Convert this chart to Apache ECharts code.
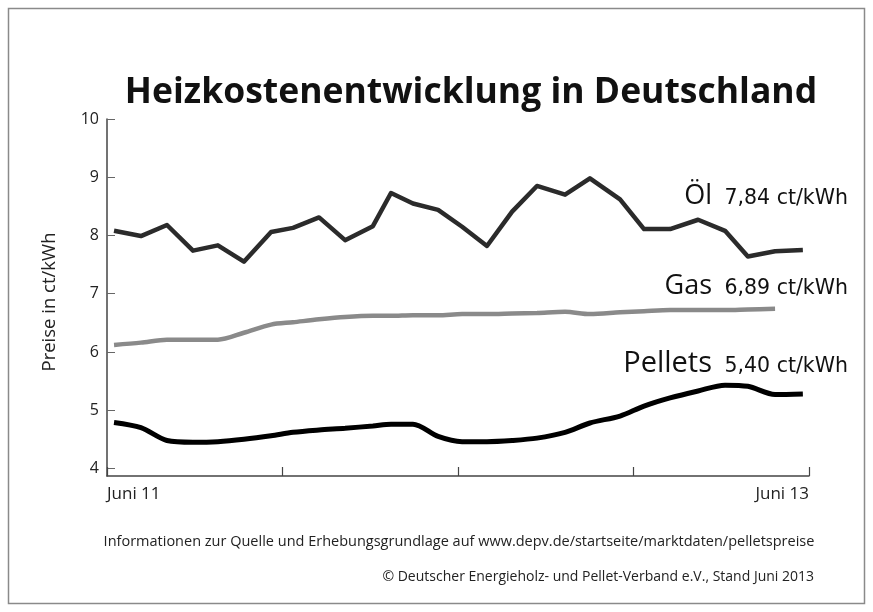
<!DOCTYPE html>
<html>
<head>
<meta charset="utf-8">
<script src="https://cdn.jsdelivr.net/npm/echarts@6/dist/echarts.min.js"></script>
<style>
  html, body { margin: 0; padding: 0; background: #fff; }
  #main { width: 873px; height: 612px; }
</style>
</head>
<body>
<div id="main"></div>
<script>
// Monate seit Juni 11
var monate = [0.24, 1.16, 2.05, 2.94, 3.79, 4.68, 5.61, 6.36, 7.25, 8.14, 9.09, 9.71, 10.46, 11.32,
  12.14, 12.99, 13.85, 14.70, 15.66, 16.51, 17.54, 18.36, 19.25, 20.21, 21.13, 21.91, 22.84, 23.79];
var oel = [8.08, 7.99, 8.18, 7.74, 7.83, 7.55, 8.06, 8.13, 8.31, 7.92, 8.16, 8.73, 8.55, 8.44,
  8.15, 7.82, 8.41, 8.85, 8.70, 8.98, 8.62, 8.11, 8.11, 8.27, 8.08, 7.64, 7.73, 7.75];
var gas = [6.12, 6.16, 6.21, 6.21, 6.21, 6.33, 6.47, 6.51, 6.56, 6.60, 6.62, 6.62, 6.63, 6.63,
  6.65, 6.65, 6.66, 6.67, 6.69, 6.65, 6.68, 6.70, 6.72, 6.72, 6.72, 6.73, 6.74];
var pellets = [4.79, 4.70, 4.48, 4.45, 4.46, 4.50, 4.56, 4.62, 4.66, 4.69, 4.73, 4.76, 4.76, 4.55,
  4.46, 4.46, 4.48, 4.52, 4.62, 4.78, 4.90, 5.07, 5.21, 5.33, 5.43, 5.41, 5.27, 5.28];
var yTicks = [4, 5, 6, 7, 8, 9, 10];
var xLabels = { 0: 'Juni 11', 24: 'Juni 13' };
var endwerte = [
  { name: 'Öl', text: '7,84 ct/kWh', y: 204, size: 27 },
  { name: 'Gas', text: '6,89 ct/kWh', y: 294, size: 27 },
  { name: 'Pellets', text: '5,40 ct/kWh', y: 372, size: 29 }
];

(function () {
  var myChart = echarts.init(document.getElementById('main'));
  var font = '"Open Sans", "Noto Sans", sans-serif';

  function paare(werte) {
    return werte.map(function (v, i) { return [monate[i], v]; });
  }

  var graphics = [
    {
      type: 'rect',
      shape: { x: 8.5, y: 8.5, width: 856, height: 595 },
      style: { fill: 'none', stroke: '#8a8a8a', lineWidth: 1.5 }
    },
    {
      type: 'text', x: 471, y: 111,
      style: {
        text: 'Heizkostenentwicklung in Deutschland',
        font: 'bold 35.5px ' + font, fill: '#111',
        align: 'center', verticalAlign: 'bottom'
      }
    },
    {
      type: 'text', x: 50, y: 302, rotation: Math.PI / 2,
      style: {
        text: 'Preise in ct/kWh', font: '18.5px ' + font, fill: '#222',
        align: 'center', verticalAlign: 'middle'
      }
    },
    {
      type: 'text', x: 459, y: 542,
      style: {
        text: 'Informationen zur Quelle und Erhebungsgrundlage auf www.depv.de/startseite/marktdaten/pelletspreise',
        font: '14.5px ' + font, fill: '#222', align: 'center', verticalAlign: 'middle'
      }
    },
    {
      type: 'text', x: 814, y: 577,
      style: {
        text: '© Deutscher Energieholz- und Pellet-Verband e.V., Stand Juni 2013',
        font: '14px ' + font, fill: '#222', align: 'right', verticalAlign: 'middle'
      }
    }
  ];

  endwerte.forEach(function (e) {
    graphics.push({
      type: 'text', x: 712, y: e.y + 6,
      style: { text: e.name, font: e.size + 'px ' + font, fill: '#111', align: 'right', verticalAlign: 'bottom' }
    });
    graphics.push({
      type: 'text', x: 848, y: e.y + 5,
      style: { text: e.text, font: '20.5px "DejaVu Sans", sans-serif', fill: '#111', align: 'right', verticalAlign: 'bottom' }
    });
  });

  option = {
    animation: false,
    grid: { left: 107, right: 64, top: 119, bottom: 136 },
    xAxis: {
      type: 'value',
      min: 0,
      max: 24,
      interval: 6,
      axisLine: { lineStyle: { color: '#444', width: 1.5 } },
      axisTick: { inside: true, length: 9, lineStyle: { color: '#444', width: 1.2 } },
      splitLine: { show: false },
      axisLabel: {
        margin: 10,
        fontFamily: font,
        fontSize: 17,
        color: '#222',
        alignMinLabel: 'left',
        alignMaxLabel: 'right',
        formatter: function (v) { return xLabels[v] || ''; }
      }
    },
    yAxis: {
      type: 'value',
      min: 3.87,
      max: 10,
      axisLine: { show: true, lineStyle: { color: '#444', width: 1.5 } },
      axisTick: { show: true, inside: true, length: 8, customValues: yTicks, lineStyle: { color: '#666', width: 1 } },
      splitLine: { show: false },
      axisLabel: {
        margin: 8,
        fontFamily: font,
        fontSize: 16,
        color: '#222',
        customValues: yTicks
      }
    },
    graphic: graphics,
    series: [
      {
        name: 'Öl', type: 'line', showSymbol: false,
        lineStyle: { color: '#2b2b2b', width: 4.5, join: 'round' },
        data: paare(oel)
      },
      {
        name: 'Gas', type: 'line', showSymbol: false, smooth: 0.3,
        lineStyle: { color: '#8a8a8a', width: 4.5 },
        data: paare(gas)
      },
      {
        name: 'Pellets', type: 'line', showSymbol: false, smooth: 0.3,
        lineStyle: { color: '#000', width: 5 },
        data: paare(pellets)
      }
    ]
  };

  myChart.setOption(option);
})();
</script>
</body>
</html>
